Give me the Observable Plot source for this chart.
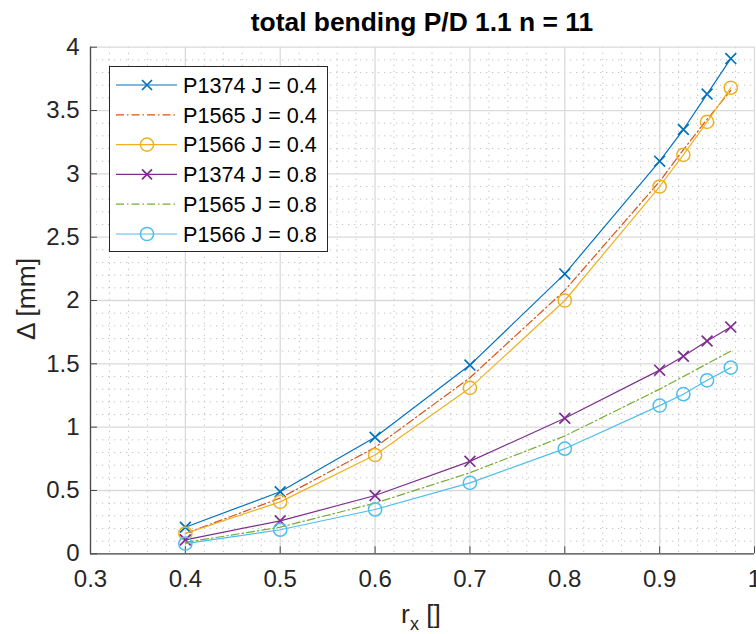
<!DOCTYPE html>
<html>
<head>
<meta charset="utf-8">
<script src="https://cdn.jsdelivr.net/npm/d3@7"></script>
<script src="https://cdn.jsdelivr.net/npm/@observablehq/plot@0.6"></script>
<style>
  body { margin: 0; background: #fff; font-family: "Liberation Sans", Arial, sans-serif; }
  #wrap { position: relative; width: 756px; height: 634px; }
  #title {
    position: absolute; left: 0; top: 0; z-index: 2;
    height: 45px; line-height: 45px; width: 756px; box-sizing: border-box;
    padding-left: 88px; text-align: center; font-weight: bold; font-size: 26.4px; color: #000;
  }
</style>
</head>
<body>
<div id="wrap">
  <div id="chart"></div>
  <div id="title">total bending P/D 1.1 n = 11</div>
</div>
<script>
// Radial position r_x at which the deflection was evaluated
const rx = [0.4, 0.5, 0.6, 0.7, 0.8, 0.9, 0.925, 0.95, 0.975];

// Total bending deflection Δ [mm] per propeller and advance ratio
const p1374_j04 = [0.21, 0.49, 0.92, 1.49, 2.21, 3.10, 3.35, 3.63, 3.91];
const p1565_j04 = [0.16, 0.44, 0.84, 1.39, 2.08, 2.94, 3.19, 3.43, 3.66];
const p1566_j04 = [0.16, 0.41, 0.78, 1.31, 2.00, 2.90, 3.15, 3.41, 3.68];
const p1374_j08 = [0.11, 0.26, 0.46, 0.73, 1.07, 1.45, 1.56, 1.68, 1.79];
const p1565_j08 = [0.09, 0.21, 0.40, 0.64, 0.93, 1.30, 1.40, 1.50, 1.60];
const p1566_j08 = [0.08, 0.19, 0.35, 0.56, 0.83, 1.17, 1.26, 1.37, 1.47];

const seriesNames = [
  "P1374 J = 0.4", "P1565 J = 0.4", "P1566 J = 0.4",
  "P1374 J = 0.8", "P1565 J = 0.8", "P1566 J = 0.8"
];
const seriesValues = [p1374_j04, p1565_j04, p1566_j04, p1374_j08, p1565_j08, p1566_j08];

// Axis tick values
const xTicks = [0.3, 0.4, 0.5, 0.6, 0.7, 0.8, 0.9, 1];
const yTicks = [0, 0.5, 1, 1.5, 2, 2.5, 3, 3.5, 4];

// Line styles (MATLAB default colour order)
const seriesColors = ["#0072BD", "#D95319", "#EDB120", "#7E2F8E", "#77AC30", "#4DBEEE"];
const seriesMarkers = ["times", null, "circle", "times", null, "circle"];
const dashDot = "8 3 1.5 3";
const seriesDash = [null, dashDot, null, null, dashDot, null];

const series = seriesNames.map((name, i) => ({
  name, color: seriesColors[i], marker: seriesMarkers[i], dash: seriesDash[i],
  data: rx.map((r, j) => ({r, v: seriesValues[i][j]}))
}));

// Minor grid positions
const xMinor = d3.range(0, 36).filter(i => i % 5 !== 0).map(i => +(0.3 + i * 0.02).toFixed(3));
const yMinor = d3.range(0, 41).filter(i => i % 5 !== 0).map(i => +(i * 0.1).toFixed(2));

const axisColor = "#4a4a4a";
const fontFamily = "'Liberation Sans', Arial, Helvetica, sans-serif";

const marks = [
  Plot.ruleX(xMinor, {stroke: "#c4c4c4", strokeDasharray: "1.3 4.7", strokeWidth: 1}),
  Plot.ruleY(yMinor, {stroke: "#c4c4c4", strokeDasharray: "1.3 4.7", strokeWidth: 1}),
  Plot.gridX(xTicks, {stroke: "#dadada", strokeOpacity: 1, strokeWidth: 1.3}),
  Plot.gridY(yTicks, {stroke: "#dadada", strokeOpacity: 1, strokeWidth: 1.3}),
  Plot.ruleX([0.3], {stroke: axisColor, strokeWidth: 1.3}),
  Plot.ruleY([0], {stroke: axisColor, strokeWidth: 1.3}),
  Plot.axisX({ticks: xTicks, tickFormat: d => String(d), tickSize: -7, tickPadding: 23,
              stroke: axisColor, fill: "#262626", label: null}),
  Plot.axisY({ticks: yTicks, tickFormat: d => String(d), tickSize: -7, tickPadding: 18,
              stroke: axisColor, fill: "#262626", label: null})
];

for (const s of series) {
  marks.push(Plot.line(s.data, {
    x: "r", y: "v", stroke: s.color, strokeWidth: 1.2,
    strokeDasharray: s.dash || undefined
  }));
  if (s.marker === "times") {
    marks.push(Plot.dot(s.data, {x: "r", y: "v", symbol: "times", r: 5,
      stroke: s.color, strokeWidth: 1.7}));
  } else if (s.marker === "circle") {
    marks.push(Plot.dot(s.data, {x: "r", y: "v", symbol: "circle", r: 6.6,
      stroke: s.color, fill: "none", strokeWidth: 1.5}));
  }
}

const chart = Plot.plot({
  width: 756,
  height: 634,
  marginLeft: 90,
  marginRight: 2,
  marginTop: 46.7,
  marginBottom: 80.7,
  x: {domain: [0.3, 1]},
  y: {domain: [0, 4]},
  style: {fontFamily, fontSize: "24px", color: "#262626", background: "#fff"},
  marks
});
document.getElementById("chart").appendChild(chart);

// Axis titles and legend
const svg = d3.select(chart);

const xl = svg.append("text")
  .attr("x", 421).attr("y", 623)
  .attr("text-anchor", "middle")
  .attr("fill", "#262626")
  .style("font-family", fontFamily).style("font-size", "26.4px");
xl.append("tspan").text("r");
xl.append("tspan").attr("dy", 7).style("font-size", "18px").text("x");
xl.append("tspan").attr("dy", -7).text(" []");

svg.append("text")
  .attr("transform", "translate(35,299) rotate(-90)")
  .attr("text-anchor", "middle")
  .attr("fill", "#262626")
  .style("font-family", fontFamily).style("font-size", "26.4px")
  .text("Δ [mm]");

const lg = svg.append("g");
lg.append("rect")
  .attr("x", 109.5).attr("y", 66.5).attr("width", 218).attr("height", 185)
  .attr("fill", "#fff").attr("stroke", "#262626").attr("stroke-width", 1);

series.forEach((s, i) => {
  const y = 85 + i * 29.8;
  const row = lg.append("g");
  row.append("line")
    .attr("x1", 116).attr("x2", 177).attr("y1", y).attr("y2", y)
    .attr("stroke", s.color).attr("stroke-width", 1.2)
    .attr("stroke-dasharray", s.dash || null);
  if (s.marker === "times") {
    row.append("path")
      .attr("d", `M${147 - 5},${y - 5}L${147 + 5},${y + 5}M${147 - 5},${y + 5}L${147 + 5},${y - 5}`)
      .attr("stroke", s.color).attr("stroke-width", 1.7).attr("fill", "none");
  } else if (s.marker === "circle") {
    row.append("circle")
      .attr("cx", 147).attr("cy", y).attr("r", 6.6)
      .attr("stroke", s.color).attr("stroke-width", 1.5).attr("fill", "none");
  }
  row.append("text")
    .attr("x", 183).attr("y", y).attr("dy", "0.36em")
    .attr("text-anchor", "start")
    .attr("fill", "#000")
    .style("font-family", fontFamily).style("font-size", "21.6px")
    .text(s.name);
});
</script>
</body>
</html>
